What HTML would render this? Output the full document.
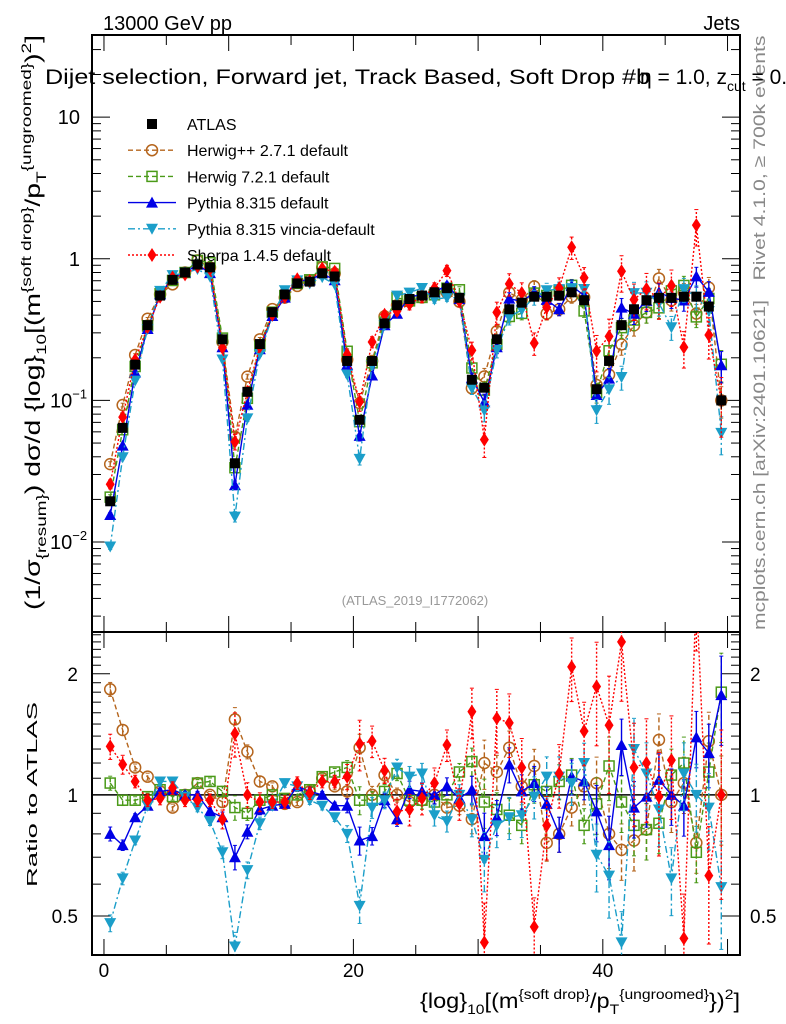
<!DOCTYPE html>
<html><head><meta charset="utf-8">
<style>
html,body{margin:0;padding:0;background:#fff;}
svg{display:block;font-family:"Liberation Sans",sans-serif;}
</style></head>
<body>
<svg id="c" width="786" height="1024" viewBox="0 0 786 1024" xmlns="http://www.w3.org/2000/svg">
<text x="103" y="30" font-size="20">13000 GeV pp</text>
<text x="740" y="30" font-size="20" text-anchor="end">Jets</text>
<text x="415" y="605" font-size="13" fill="#999" text-anchor="middle">(ATLAS_2019_I1772062)</text>
<text transform="translate(765,158) rotate(-90)" font-size="17" fill="#888" text-anchor="middle" textLength="245" lengthAdjust="spacingAndGlyphs">Rivet 4.1.0, ≥ 700k events</text>
<text transform="translate(765,465) rotate(-90)" font-size="17" fill="#888" text-anchor="middle" textLength="330" lengthAdjust="spacingAndGlyphs">mcplots.cern.ch [arXiv:2401.10621]</text>
<text transform="translate(40,610) rotate(-90)" font-size="21" textLength="575" lengthAdjust="spacingAndGlyphs">(1/σ<tspan font-size="14" dy="6">{resum}</tspan><tspan dy="-6">) dσ/d {log}</tspan><tspan font-size="14" dy="6">10</tspan><tspan dy="-6">[(m</tspan><tspan font-size="14" dy="-9">{soft drop}</tspan><tspan dy="9">/p</tspan><tspan font-size="14" dy="6">T</tspan><tspan font-size="14" dy="-15">{ungroomed}</tspan><tspan dy="9">)</tspan><tspan font-size="14" dy="-9">2</tspan><tspan dy="9">]</tspan></text>
<text transform="translate(37,887) rotate(-90)" font-size="15" textLength="185" lengthAdjust="spacingAndGlyphs">Ratio to ATLAS</text>
<text x="420" y="1008" font-size="21" textLength="320" lengthAdjust="spacingAndGlyphs">{log}<tspan font-size="14" dy="6">10</tspan><tspan dy="-6">[(m</tspan><tspan font-size="14" dy="-9">{soft drop}</tspan><tspan dy="9">/p</tspan><tspan font-size="14" dy="6">T</tspan><tspan font-size="14" dy="-15">{ungroomed}</tspan><tspan dy="9">})</tspan><tspan font-size="14" dy="-9">2</tspan><tspan dy="9">]</tspan></text>
<g id="plots"></g>
<text x="45" y="84" font-size="21"><tspan textLength="605" lengthAdjust="spacingAndGlyphs">Dijet selection, Forward jet, Track Based, Soft Drop #b</tspan><tspan dx="-10">η = 1.0, z</tspan><tspan font-size="14" dy="7">cut</tspan><tspan dy="-7"> = 0.1</tspan></text>
</svg>
<script>
// ---- data ----
const bins = [];
for (let i = 0; i < 50; i++) bins.push(i + 0.5);
const atlas = [0.0194,0.064,0.179,0.34,0.55,0.71,0.80,0.91,0.87,0.27,
 0.036,0.115,0.25,0.42,0.56,0.67,0.69,0.79,0.75,0.19,
 0.073,0.19,0.35,0.47,0.52,0.55,0.58,0.62,0.53,0.14,
 0.123,0.27,0.44,0.49,0.54,0.54,0.55,0.58,0.51,0.12,
 0.19,0.34,0.44,0.51,0.53,0.53,0.54,0.54,0.46,0.10];
const ratioHerwigpp = [1.83,1.45,1.17,1.11,1.02,0.93,1.0,1.07,1.0,0.96,
 1.54,1.28,1.08,1.05,0.95,0.96,1.02,1.10,1.05,1.02,
 1.31,1.0,1.12,1.0,0.96,0.97,1.0,0.93,0.94,0.87,
 1.2,1.14,1.31,1.05,1.18,0.76,0.80,0.93,1.05,1.07,
 0.80,0.73,0.77,0.82,1.37,0.96,1.07,0.76,1.36,1.0];
const ratioHerwig7 = [1.07,0.97,0.97,0.99,1.03,0.99,1.0,1.07,1.08,1.02,
 0.93,0.90,0.97,1.0,0.98,1.0,1.03,1.11,1.14,1.17,
 0.97,0.97,1.02,1.13,0.97,0.97,0.96,1.0,1.14,1.21,
 0.96,0.92,0.89,0.84,1.06,1.02,1.08,1.12,0.84,0.95,
 1.18,0.96,0.84,0.82,0.85,1.12,1.2,0.72,1.14,1.8];
const ratioPythia = [0.80,0.75,0.88,0.94,1.02,1.03,1.0,1.0,0.91,0.88,
 0.70,0.81,0.92,0.94,0.95,1.05,1.02,1.0,0.94,0.94,
 0.77,0.79,0.97,0.87,1.03,1.02,1.0,1.05,0.98,1.03,
 0.79,0.88,1.19,1.02,1.07,0.95,0.80,1.11,1.08,0.91,
 0.75,1.33,0.93,0.99,1.09,1.0,0.94,1.39,1.27,1.77];
const ratioVincia = [0.48,0.62,0.77,0.94,1.08,1.08,0.99,0.93,0.86,0.72,
 0.42,0.65,0.85,0.94,1.07,1.05,0.97,0.94,0.88,0.80,
 0.53,0.93,0.97,1.17,1.11,1.13,0.89,0.86,1.0,0.87,
 0.69,0.84,0.88,0.89,0.99,1.11,1.11,1.07,1.2,0.71,
 0.63,0.43,1.3,1.13,0.92,0.62,1.13,1.0,0.93,0.59];
const ratioSherpa = [1.32,1.19,1.08,0.97,0.98,1.04,0.97,0.97,0.97,0.87,
 1.42,1.0,0.96,0.96,0.96,1.07,1.01,1.08,1.08,1.11,
 1.34,1.36,1.15,0.91,0.92,0.98,1.07,1.33,0.95,1.61,
 0.43,1.55,1.51,1.17,0.47,0.84,1.13,2.08,1.44,1.86,
 1.49,2.4,1.17,1.2,0.99,1.22,0.44,3.2,0.63,1.0];
const relErr = [0.04,0.03,0.02,0.02,0.02,0.02,0.02,0.02,0.02,0.03,
 0.07,0.04,0.03,0.02,0.02,0.02,0.02,0.02,0.02,0.04,
 0.08,0.05,0.04,0.04,0.05,0.05,0.05,0.05,0.05,0.08,
 0.14,0.10,0.10,0.10,0.10,0.10,0.10,0.10,0.10,0.16,
 0.18,0.16,0.16,0.16,0.16,0.16,0.16,0.16,0.18,0.25];
const ratioTicks = [0.5, 1, 2];
const xTicks = [0, 20, 40];

// ---- axes ----
const X0 = 92, X1 = 740, xmin = -0.96, xmax = 51.0;
const M0 = 35, M1 = 632, lmax = 1.58, lmin = -2.635;
const R0 = 632, R1 = 955, rlmax = Math.log2(2.54), rlmin = Math.log2(0.40);
const sx = v => X0 + (v - xmin) / (xmax - xmin) * (X1 - X0);
const sy = v => M0 + (lmax - Math.log10(Math.max(v, 1e-9))) / (lmax - lmin) * (M1 - M0);
const sr = v => R0 + (rlmax - Math.log2(Math.max(v, 1e-6))) / (rlmax - rlmin) * (R1 - R0);

const NS = 'http://www.w3.org/2000/svg';
const root = document.getElementById('plots');
function mk(tag, attrs, parent) {
  const e = document.createElementNS(NS, tag);
  for (const k in attrs) e.setAttribute(k, attrs[k]);
  (parent || root).appendChild(e);
  return e;
}
const defs = mk('defs', {});
const cp1 = mk('clipPath', {id: 'cm'}, defs); mk('rect', {x: X0, y: M0, width: X1 - X0, height: M1 - M0}, cp1);
const cp2 = mk('clipPath', {id: 'cr'}, defs); mk('rect', {x: X0, y: R0, width: X1 - X0, height: R1 - R0}, cp2);

const series = [
  {key: 'herwigpp', ratio: ratioHerwigpp, color: '#b5651d', dash: '5,3', marker: 'circle', label: 'Herwig++ 2.7.1 default', errs: 1.0},
  {key: 'herwig7', ratio: ratioHerwig7, color: '#4a9a18', dash: '5,3', marker: 'osquare', label: 'Herwig 7.2.1 default', errs: 1.0},
  {key: 'pythia', ratio: ratioPythia, color: '#0000e6', dash: '', marker: 'tri', label: 'Pythia 8.315 default', errs: 1.0},
  {key: 'vincia', ratio: ratioVincia, color: '#1b9ec9', dash: '7,3,2,3', marker: 'dtri', label: 'Pythia 8.315 vincia-default', errs: 1.2},
  {key: 'sherpa', ratio: ratioSherpa, color: '#ff0000', dash: '2,2', marker: 'diamond', label: 'Sherpa 1.4.5 default', errs: 1.8}
];

function marker(g, type, x, y, color) {
  let e;
  if (type === 'square') e = mk('rect', {x: x - 5, y: y - 5, width: 10, height: 10, fill: '#000'}, g);
  else if (type === 'osquare') e = mk('rect', {x: x - 5, y: y - 5, width: 10, height: 10, fill: 'none', stroke: color, 'stroke-width': 1.5}, g);
  else if (type === 'circle') e = mk('circle', {cx: x, cy: y, r: 5.5, fill: 'none', stroke: color, 'stroke-width': 1.5}, g);
  else if (type === 'tri') e = mk('polygon', {points: `${x},${y-6} ${x-6},${y+5} ${x+6},${y+5}`, fill: color}, g);
  else if (type === 'dtri') e = mk('polygon', {points: `${x},${y+6} ${x-6},${y-5} ${x+6},${y-5}`, fill: color}, g);
  else e = mk('polygon', {points: `${x},${y-7} ${x-4.5},${y} ${x},${y+7} ${x+4.5},${y}`, fill: color}, g);
  return e;
}

function frame(y0, y1, name) {
  const r = mk('rect', {x: X0, y: y0, width: X1 - X0, height: y1 - y0, fill: 'none', stroke: '#000', 'stroke-width': 2});
  
  
}
frame(M0, M1, 'main-frame');
frame(R0, R1, 'ratio-frame');

const tg = mk('g', {stroke: '#000', 'stroke-width': 1});


for (let v = 0; v <= 50; v++) {
  const x = sx(v);
  const L = v % 10 === 0 ? 16 : (v % 5 === 0 ? 10 : 0);
  if (!L) continue;
  [[M0, 1], [M1, -1], [R0, 1], [R1, -1]].forEach(([y, d]) => mk('line', {x1: x, x2: x, y1: y, y2: y + d * L}, tg));
}
for (let e = -3; e <= 1; e++) {
  for (let m = 1; m <= 9; m++) {
    const v = m * Math.pow(10, e);
    const y = sy(v);
    if (y < M0 || y > M1) continue;
    const L = m === 1 ? 18 : 9;
    mk('line', {x1: X0, x2: X0 + L, y1: y, y2: y}, tg);
    mk('line', {x1: X1, x2: X1 - L, y1: y, y2: y}, tg);
  }
}
[0.4,0.5,0.6,0.7,0.8,0.9,1,1.1,1.2,1.3,1.4,1.5,1.6,1.7,1.8,1.9,2,2.1,2.2,2.3,2.4,2.5].forEach(v => {
  const y = sr(v);
  if (y < R0 || y > R1) return;
  const L = (v === 0.5 || v === 1 || v === 2) ? 18 : 9;
  mk('line', {x1: X0, x2: X0 + L, y1: y, y2: y}, tg);
  mk('line', {x1: X1, x2: X1 - L, y1: y, y2: y}, tg);
});
const ylab = [[10, '10', ''], [1, '1', ''], [0.1, '10', '−1'], [0.01, '10', '−2']];
ylab.forEach(([v, b, s]) => {
  const t = s ? mk('text', {x: 50, y: sy(v) + 7, 'font-size': 20})
              : mk('text', {x: 80, y: sy(v) + 7, 'font-size': 20, 'text-anchor': 'end'});
  
  
  t.textContent = b;
  if (s) { const ts = mk('tspan', {'font-size': 13, dy: -9}, t); ts.textContent = s; }
});
ratioTicks.forEach(v => {
  const t = mk('text', {x: 78, y: sr(v) + 7, 'font-size': 19, 'text-anchor': 'end'});
  
  
  t.textContent = String(v);
  const t2 = mk('text', {x: 750, y: sr(v) + 7, 'font-size': 19});
  
  
  t2.textContent = String(v);
});
xTicks.forEach(v => {
  const t = mk('text', {x: sx(v), y: 977, 'font-size': 19, 'text-anchor': 'middle'});
  
  
  t.textContent = String(v);
});
const ref = mk('line', {x1: X0, x2: X1, y1: sr(1), y2: sr(1), stroke: '#000', 'stroke-width': 1.5});



const gm = mk('g', {'clip-path': 'url(#cm)'});
const gr = mk('g', {'clip-path': 'url(#cr)'});
series.forEach(s => {
  [[gm, v => sy(v), true], [gr, v => sr(v), false]].forEach(([par, f, main]) => {
    const g = mk('g', {}, par);
    
    
    const vals = bins.map((b, i) => main ? atlas[i] * s.ratio[i] : s.ratio[i]);
    const pts = bins.map((b, i) => `${sx(b)},${f(vals[i])}`).join(' ');
    mk('polyline', {points: pts, fill: 'none', stroke: s.color, 'stroke-width': 1.4, 'stroke-dasharray': s.dash}, g);
    bins.forEach((b, i) => {
      const err = relErr[i] * s.errs * vals[i];
      const lo = Math.max(vals[i] - err, 1e-9), hi = vals[i] + err;
      mk('line', {x1: sx(b), x2: sx(b), y1: f(lo), y2: f(hi), stroke: s.color, 'stroke-width': 1.4, 'stroke-dasharray': s.dash}, g);
      mk('line', {x1: sx(b) - 2, x2: sx(b) + 2, y1: f(hi), y2: f(hi), stroke: s.color, 'stroke-width': 1}, g);
      mk('line', {x1: sx(b) - 2, x2: sx(b) + 2, y1: f(lo), y2: f(lo), stroke: s.color, 'stroke-width': 1}, g);
      marker(g, s.marker, sx(b), f(vals[i]), s.color);
    });
  });
});
const ga = mk('g', {'clip-path': 'url(#cm)'});


bins.forEach((b, i) => {
  const e = relErr[i] * 0.5 * atlas[i];
  mk('line', {x1: sx(b), x2: sx(b), y1: sy(atlas[i] - e), y2: sy(atlas[i] + e), stroke: '#000', 'stroke-width': 1.2}, ga);
  marker(ga, 'square', sx(b), sy(atlas[i]), '#000');
});

const lg = mk('g', {});


const entries = [{label: 'ATLAS', marker: 'square', color: '#000', dash: null}].concat(series);
entries.forEach((s, k) => {
  const y = 124 + k * 26.2;
  const g = mk('g', {}, lg);
  
  
  if (s.dash !== null) mk('line', {x1: 128, x2: 176, y1: y, y2: y, stroke: s.color, 'stroke-width': 1.4, 'stroke-dasharray': s.dash}, g);
  marker(g, s.marker, 152, y, s.color);
  const t = mk('text', {x: 187, y: y + 6, 'font-size': 16}, g);
  t.textContent = s.label;
});
</script>
</body></html>
